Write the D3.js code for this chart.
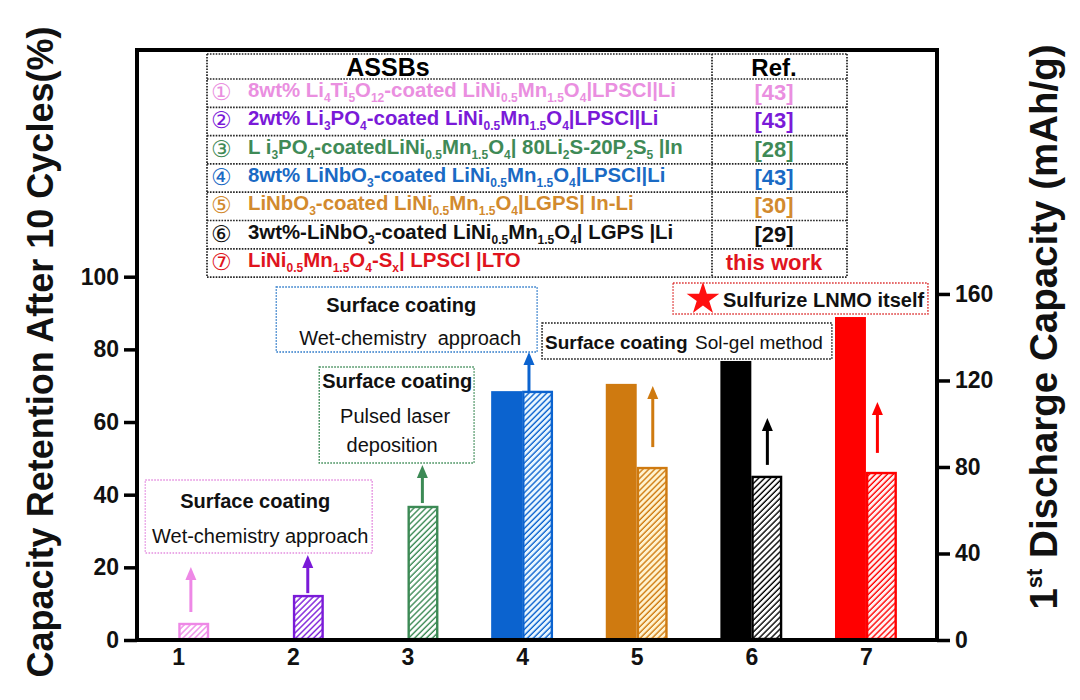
<!DOCTYPE html>
<html><head><meta charset="utf-8">
<script src="https://cdn.jsdelivr.net/npm/d3@7"></script>
<style>
body{margin:0;background:#fff;}
svg{display:block;font-family:"Liberation Sans",Arial,Helvetica,sans-serif;}
text{white-space:pre;}
</style>
</head><body>
<svg id="c" width="1080" height="700"></svg>
<script>
// ---------- data ----------
const categories = [1, 2, 3, 4, 5, 6, 7];
// solid bars: capacity retention after 10 cycles (%), left axis
const retention = [null, null, null, 68.5, 70.5, 76.8, 88.9];
// hatched bars: 1st discharge capacity (mAh/g), right axis
const discharge = [7.4, 20.3, 61.5, 114.7, 79.5, 75.4, 77.2];
const leftTicks = [0, 20, 40, 60, 80, 100];
const rightTicks = [0, 40, 80, 120, 160];
const seriesColors = ["#ee88e6", "#7a1ad8", "#3c8a55", "#0b63cf", "#cf7a10", "#000000", "#ff0000"];
const textColors = ["#ea8fe0", "#7a1ad8", "#3f8a57", "#1a6ac4", "#d28a2e", "#111111", "#e0141e"];
const hatchBg = ["#ffffff", "#ffffff", "#ffffff", "#eaf7ff", "#fff3d0", "#ffffff", "#fff2f2"];
const circled = ["①", "②", "③", "④", "⑤", "⑥", "⑦"];
const tableRows = [
  "8wt% Li_{4}Ti_{5}O_{12}-coated LiNi_{0.5}Mn_{1.5}O_{4}|LPSCl|Li",
  "2wt% Li_{3}PO_{4}-coated LiNi_{0.5}Mn_{1.5}O_{4}|LPSCl|Li",
  "L i_{3}PO_{4}-coatedLiNi_{0.5}Mn_{1.5}O_{4}| 80Li_{2}S-20P_{2}S_{5} |In",
  "8wt% LiNbO_{3}-coated LiNi_{0.5}Mn_{1.5}O_{4}|LPSCl|Li",
  "LiNbO_{3}-coated LiNi_{0.5}Mn_{1.5}O_{4}|LGPS| In-Li",
  "3wt%-LiNbO_{3}-coated LiNi_{0.5}Mn_{1.5}O_{4}| LGPS |Li",
  "LiNi_{0.5}Mn_{1.5}O_{4}-S_{x}| LPSCl |LTO"
];
const tableRefs = ["[43]", "[43]", "[28]", "[43]", "[30]", "[29]", "this work"];
const tableHeader = ["ASSBs", "Ref."];
const leftTitle = "Capacity Retention After 10 Cycles(%)";

// annotations (positions in data units: x = category, y = left-axis %)
const arrows = [
  {x: 1.11, y0: 7.7, y1: 20.1, c: 0}, {x: 2.13, y0: 12.9, y1: 23.4, c: 1},
  {x: 3.13, y0: 37.7, y1: 48.2, c: 2}, {x: 4.06, y0: 68.3, y1: 79.3, c: 3},
  {x: 5.14, y0: 53.1, y1: 69.9, c: 4}, {x: 6.14, y0: 48.2, y1: 61.1, c: 5},
  {x: 7.10, y0: 51.5, y1: 65.5, c: 6}
];
const boxes = [
  {x0: 0.712, x1: 2.692, y0: 23.95, y1: 44.04, stroke: "#e58fe0", size: 20, lines: [
    {t: "Surface coating", b: true, x: 1.671, y: 36.33, a: "middle"},
    {t: "Wet-chemistry approach", b: false, x: 1.715, y: 26.70, a: "middle"}]},
  {x0: 2.230, x1: 3.581, y0: 48.72, y1: 75.14, stroke: "#3c8a55", size: 20, lines: [
    {t: "Surface coating", b: true, x: 2.910, y: 69.36, a: "middle"},
    {t: "Pulsed laser", b: false, x: 2.892, y: 59.73, a: "middle"},
    {t: "deposition", b: false, x: 2.866, y: 51.75, a: "middle"}]},
  {x0: 1.855, x1: 4.131, y0: 79.27, y1: 97.16, stroke: "#2a78c8", size: 20, lines: [
    {t: "Surface coating", b: true, x: 2.945, y: 90.28, a: "middle"},
    {t: "Wet-chemistry  approach", b: false, x: 3.023, y: 81.20, a: "middle"}]},
  {x0: 4.174, x1: 6.703, y0: 77.35, y1: 87.26, stroke: "#111", size: 19, lines: [
    {t: "Surface coating", b: true, x: 4.200, y: 80.10, a: "start"},
    {t: "Sol-gel method", b: false, x: 5.509, y: 80.10, a: "start"}]},
  {x0: 5.317, x1: 7.541, y0: 89.73, y1: 98.27, stroke: "#d33", size: 20, lines: [
    {t: "Sulfurize LNMO itself", b: true, x: 5.753, y: 91.66, a: "start"}]}
];
const star = {x: 5.578, y: 93.86};

// ---------- layout ----------
const L = 137, R = 937, T = 50, B = 640;
const svg = d3.select("#c");
const x = d3.scaleLinear().domain([0.64, 7.62]).range([L, R]);
const yL = d3.scaleLinear().domain([0, 162.4]).range([B, T]);
const yR = d3.scaleLinear().domain([0, 272.8]).range([B, T]);
const bw = 0.27;

// hatch patterns
const defs = svg.append("defs");
seriesColors.forEach((c, i) => {
  const p = defs.append("pattern").attr("id", "h" + i).attr("patternUnits", "userSpaceOnUse")
    .attr("width", 4.2).attr("height", 4.2).attr("patternTransform", "rotate(45)");
  p.append("rect").attr("width", 4.2).attr("height", 4.2).attr("fill", hatchBg[i]);
  p.append("line").attr("x1", 1).attr("y1", 0).attr("x2", 1).attr("y2", 4.2)
    .attr("stroke", c).attr("stroke-width", 1.4);
});

// solid bars
svg.append("g").selectAll("rect").data(categories.filter((d, i) => retention[i] != null)).join("rect")
  .attr("x", d => x(d - bw)).attr("width", d => x(d) - x(d - bw))
  .attr("y", d => yL(retention[d - 1])).attr("height", d => B - yL(retention[d - 1]))
  .attr("fill", d => seriesColors[d - 1]);
// hatched bars
svg.append("g").selectAll("rect").data(categories).join("rect")
  .attr("x", d => x(d) + 1.2).attr("width", d => x(d + bw) - x(d) - 2.4)
  .attr("y", d => yR(discharge[d - 1])).attr("height", d => B - yR(discharge[d - 1]) - 1)
  .attr("fill", d => "url(#h" + (d - 1) + ")")
  .attr("stroke", d => seriesColors[d - 1]).attr("stroke-width", 2.4);

// arrows
const ag = svg.append("g");
arrows.forEach(a => {
  const px = x(a.x), py0 = yL(a.y0), py1 = yL(a.y1), col = seriesColors[a.c];
  ag.append("line").attr("x1", px).attr("x2", px).attr("y1", py0).attr("y2", py1 + 10)
    .attr("stroke", col).attr("stroke-width", 3);
  ag.append("path").attr("d", `M${px},${py1} L${px - 5.5},${py1 + 13} L${px + 5.5},${py1 + 13} Z`).attr("fill", col);
});

// annotation boxes
const bg = svg.append("g");
boxes.forEach(bx => {
  bg.append("rect").attr("x", x(bx.x0)).attr("y", yL(bx.y1))
    .attr("width", x(bx.x1) - x(bx.x0)).attr("height", yL(bx.y0) - yL(bx.y1))
    .attr("fill", "none").attr("stroke", bx.stroke).attr("stroke-width", 1.4).attr("stroke-dasharray", "1.6,1.4");
  bx.lines.forEach(l => {
    bg.append("text").attr("x", x(l.x)).attr("y", yL(l.y)).attr("text-anchor", l.a)
      .attr("font-size", bx.size).attr("font-weight", l.b ? "bold" : "normal")
      .attr("fill", "#111").text(l.t);
  });
});
svg.append("path").attr("d", d3.symbol(d3.symbolStar, 330)())
  .attr("transform", `translate(${x(star.x)},${yL(star.y)})`).attr("fill", "#ff1010");

// table
const tX0 = 207, tX1 = 847, tColX = 712, tY0 = 54, tHead = 79, rowH = 28.3;
const tg = svg.append("g");
const dotted = sel => sel.attr("stroke", "#222").attr("stroke-width", 1.7).attr("stroke-dasharray", "1.6,1.3");
const hLines = [tY0, tHead].concat(tableRows.map((d, i) => tHead + rowH * (i + 1)));
hLines.forEach(yy => tg.append("line").attr("x1", tX0).attr("x2", tX1).attr("y1", yy).attr("y2", yy).call(dotted));
const tY1 = tHead + rowH * tableRows.length;
[tX0, tColX, tX1].forEach(xx => tg.append("line").attr("x1", xx).attr("x2", xx).attr("y1", tY0).attr("y2", tY1).call(dotted));
tg.append("text").attr("x", 388).attr("y", 76).attr("text-anchor", "middle").attr("font-size", 25).attr("font-weight", "bold").text(tableHeader[0]);
tg.append("text").attr("x", 774).attr("y", 76).attr("text-anchor", "middle").attr("font-size", 24).attr("font-weight", "bold").text(tableHeader[1]);

function richText(sel, str, size) {
  const parts = str.split(/(_\{[^}]*\})/).filter(s => s.length);
  let shifted = false;
  parts.forEach(p => {
    const m = p.match(/^_\{([^}]*)\}$/);
    const ts = sel.append("tspan");
    if (m) {
      ts.attr("font-size", Math.round(size * 0.6)).attr("dy", shifted ? 0 : 5).text(m[1]);
      shifted = true;
    } else {
      ts.attr("dy", shifted ? -5 : 0).text(p);
      shifted = false;
    }
  });
}
tableRows.forEach((r, i) => {
  const top = tHead + rowH * i;
  tg.append("text").attr("x", 211).attr("y", top + 21).attr("font-size", 23)
    .attr("font-family", "'DejaVu Sans','Noto Sans CJK SC',sans-serif").attr("fill", textColors[i]).text(circled[i]);
  const t = tg.append("text").attr("x", 248).attr("y", top + 18).attr("font-size", 20.4)
    .attr("font-weight", "bold").attr("fill", textColors[i]);
  richText(t, r, 20.4);
  tg.append("text").attr("x", 774).attr("y", top + 21).attr("text-anchor", "middle").attr("font-size", 22)
    .attr("font-weight", "bold").attr("fill", textColors[i]).text(tableRefs[i]);
});

// axes
const axL = svg.append("g").attr("transform", `translate(${L},0)`)
  .call(d3.axisLeft(yL).tickValues(leftTicks).tickSize(13).tickPadding(5));
const axR = svg.append("g").attr("transform", `translate(${R},0)`)
  .call(d3.axisRight(yR).tickValues(rightTicks).tickSize(13).tickPadding(5));
const axB = svg.append("g").attr("transform", `translate(0,${B})`)
  .call(d3.axisBottom(x).tickValues(categories).tickFormat(d3.format("d")).tickSize(0).tickPadding(9));
[axL, axR, axB].forEach(a => {
  a.select(".domain").remove();
  a.selectAll("line").attr("stroke", "#000").attr("stroke-width", 3.5);
  a.selectAll("text").attr("font-size", 23).attr("font-weight", "bold").attr("fill", "#111")
    .attr("font-family", "'Liberation Sans',Arial,sans-serif");
});
// frame
const fg = svg.append("g").attr("stroke", "#000").attr("stroke-width", 4).attr("fill", "none");
fg.append("path").attr("d", `M${L},${B + 2} L${L},${T} L${R},${T} L${R},${B + 2}`).attr("stroke-linejoin", "miter");
fg.append("line").attr("x1", L - 2).attr("x2", R + 2).attr("y1", B).attr("y2", B);

// axis titles
svg.append("text").attr("transform", `translate(53,352) rotate(-90)`)
  .attr("text-anchor", "middle").attr("font-size", 36).attr("font-weight", "bold").attr("fill", "#111").text(leftTitle);
const rt = svg.append("text").attr("transform", `translate(1057,327) rotate(-90)`)
  .attr("text-anchor", "middle").attr("font-size", 38.5).attr("font-weight", "bold").attr("fill", "#111");
rt.append("tspan").text("1");
rt.append("tspan").attr("font-size", 22).attr("dy", -15).text("st");
rt.append("tspan").attr("dy", 15).text(" Discharge Capacity (mAh/g)");
</script>
</body></html>
